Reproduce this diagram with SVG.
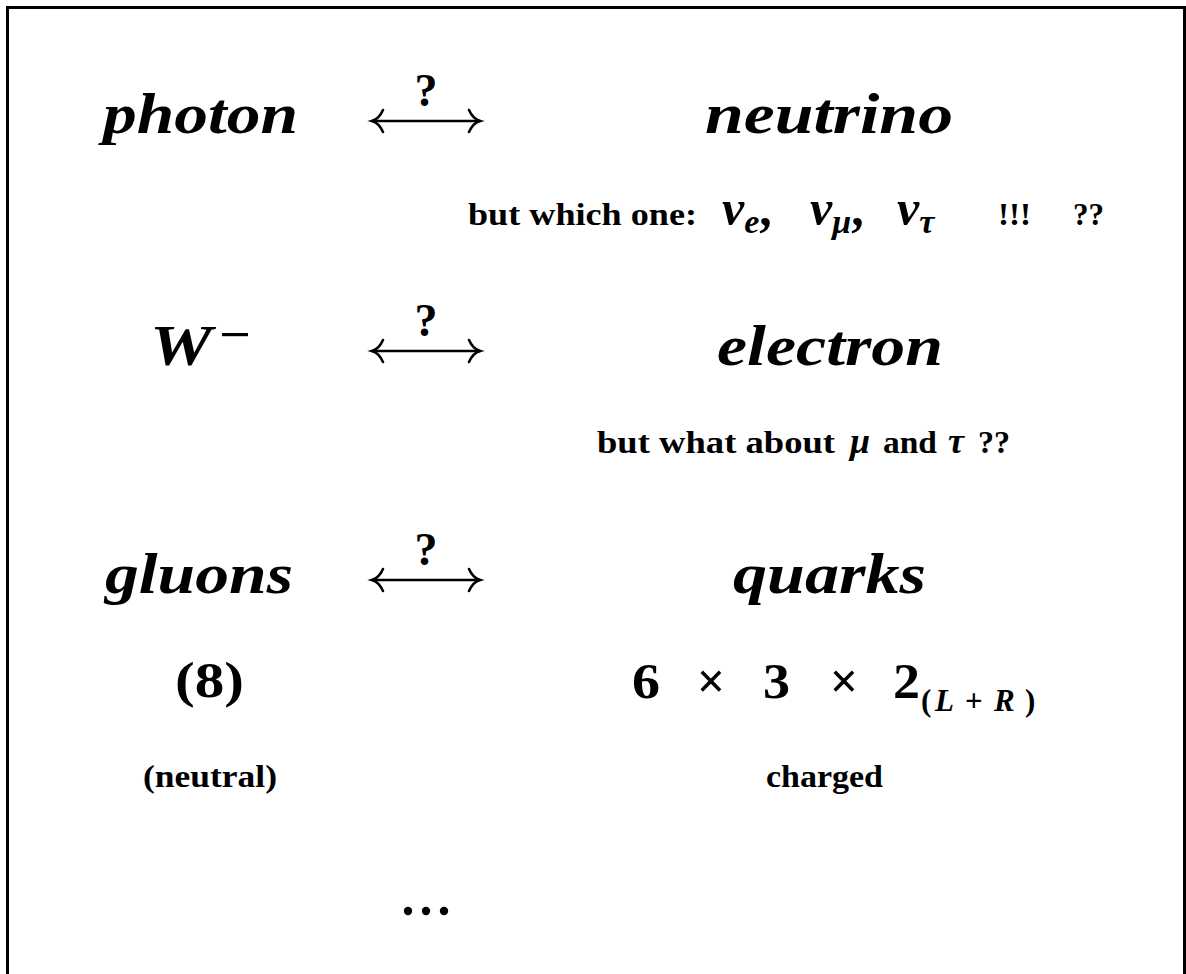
<svg xmlns="http://www.w3.org/2000/svg" width="1186" height="974" viewBox="0 0 1186 974">
<style>
.big{font-family:"Liberation Serif","DejaVu Serif",serif;font-weight:bold;font-style:italic;font-size:58px;fill:#000}
.rm{font-family:"Liberation Serif","DejaVu Serif",serif;font-weight:bold;font-size:31px;fill:#000}
.num{font-family:"Liberation Serif","DejaVu Serif",serif;font-weight:bold;font-size:50px;fill:#000}
.mi{font-family:"Liberation Serif","DejaVu Serif",serif;font-weight:bold;font-style:italic;fill:#000}
.q{font-family:"Liberation Serif","DejaVu Serif",serif;font-weight:bold;font-size:46px;fill:#000}
.arr{fill:none;stroke:#000;stroke-width:2.6;stroke-linecap:round}
</style>
<defs>
<g id="lr">
<path class="arr" d="M0 0H108"/>
<path class="arr" d="M11 -11Q7 -2 0 0Q7 2 11 11"/>
<path class="arr" d="M97 -11Q101 -2 108 0Q101 2 97 11"/>
</g>
</defs>
<rect x="7.5" y="7.5" width="1177" height="1000" fill="none" stroke="#000" stroke-width="3"/>
<g id="connectors">
<g id="arrow1"><use href="#lr" x="372" y="121"/><text class="q" x="426" y="106" text-anchor="middle">?</text></g>
<g id="arrow2"><use href="#lr" x="372" y="351"/><text class="q" x="426" y="336" text-anchor="middle">?</text></g>
<g id="arrow3"><use href="#lr" x="372" y="580"/><text class="q" x="426" y="565" text-anchor="middle">?</text></g>
</g>
<g id="photon"><text class="big" x="103" y="133" textLength="195" lengthAdjust="spacingAndGlyphs">photon</text></g>
<g id="neutrino"><text class="big" x="705" y="133" textLength="248" lengthAdjust="spacingAndGlyphs">neutrino</text></g>
<g id="which">
<text class="rm" x="468" y="225" textLength="229" lengthAdjust="spacingAndGlyphs">but which one:</text>
<text class="mi" x="722" y="225" font-size="50">ν<tspan font-size="34" dy="8">e</tspan><tspan dy="-8" font-style="normal">,</tspan></text>
<text class="mi" x="810" y="225" font-size="50">ν<tspan font-size="34" dy="8">μ</tspan><tspan dy="-8" font-style="normal">,</tspan></text>
<text class="mi" x="897" y="225" font-size="50">ν<tspan font-size="34" dy="8">τ</tspan></text>
<text class="rm" x="998" y="225" textLength="33" lengthAdjust="spacingAndGlyphs">!!!</text>
<text class="rm" x="1073" y="225" textLength="31" lengthAdjust="spacingAndGlyphs">??</text>
</g>
<g id="W"><text class="big" x="150" y="365" font-size="62" textLength="62" lengthAdjust="spacingAndGlyphs">W</text><rect x="222" y="333" width="26" height="3.2"/></g>
<g id="electron"><text class="big" x="717" y="365" textLength="226" lengthAdjust="spacingAndGlyphs">electron</text></g>
<g id="whatabout">
<text class="rm" x="597" y="453" textLength="238" lengthAdjust="spacingAndGlyphs">but what about</text>
<text class="mi" x="850" y="453" font-size="36">μ</text>
<text class="rm" x="883" y="453" textLength="54" lengthAdjust="spacingAndGlyphs">and</text>
<text class="mi" x="948" y="453" font-size="36">τ</text>
<text class="rm" x="978" y="453" textLength="32" lengthAdjust="spacingAndGlyphs">??</text>
</g>
<g id="gluons"><text class="big" x="105" y="593" textLength="188" lengthAdjust="spacingAndGlyphs">gluons</text></g>
<g id="quarks"><text class="big" x="733" y="593" textLength="193" lengthAdjust="spacingAndGlyphs">quarks</text></g>
<g id="eight"><text class="num" x="175" y="697" font-size="52" textLength="69" lengthAdjust="spacingAndGlyphs">(8)</text></g>
<g id="count">
<text class="num" x="632" y="698" textLength="28" lengthAdjust="spacingAndGlyphs">6</text>
<text class="num" x="711" y="698" text-anchor="middle" font-weight="normal">×</text>
<text class="num" x="763" y="698" textLength="27" lengthAdjust="spacingAndGlyphs">3</text>
<text class="num" x="844" y="698" text-anchor="middle" font-weight="normal">×</text>
<text class="num" x="893" y="698" textLength="27" lengthAdjust="spacingAndGlyphs">2</text>
<text class="rm" y="711" font-size="36" font-weight="normal"><tspan x="921">(</tspan><tspan x="935" font-style="italic" font-weight="bold">L</tspan><tspan x="965">+</tspan><tspan x="994" font-style="italic" font-weight="bold">R</tspan><tspan x="1025">)</tspan></text>
</g>
<g id="neutral"><text class="rm" x="143" y="787" font-size="32" textLength="134" lengthAdjust="spacingAndGlyphs">(neutral)</text></g>
<g id="charged"><text class="rm" x="766" y="787" font-size="32" textLength="117" lengthAdjust="spacingAndGlyphs">charged</text></g>
<g id="dots"><circle cx="408" cy="911" r="4.2"/><circle cx="426" cy="911" r="4.2"/><circle cx="444" cy="911" r="4.2"/></g>
</svg>
